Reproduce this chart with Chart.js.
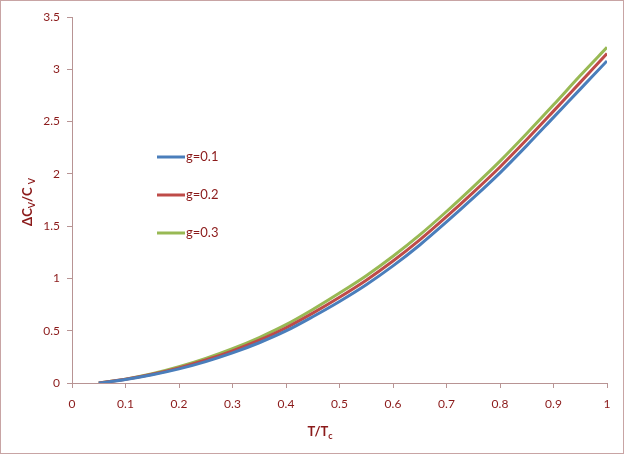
<!DOCTYPE html>
<html>
<head>
<meta charset="utf-8">
<script src="https://cdn.jsdelivr.net/npm/chart.js@4/dist/chart.umd.min.js"></script>
<style>
html,body{margin:0;padding:0;background:#fff;}
#wrap{width:624px;height:454px;position:relative;}
</style>
</head>
<body>
<div id="wrap"><canvas id="c" width="624" height="454"></canvas></div>
<script>
// Data
const tValues = [0.05,0.10,0.15,0.20,0.25,0.30,0.35,0.40,0.45,0.50,0.55,0.60,0.65,0.70,0.75,0.80,0.85,0.90,0.95,1.00];
const g01 = [0,0.033,0.078,0.135,0.205,0.288,0.385,0.498,0.634,0.780,0.940,1.120,1.320,1.540,1.770,2.010,2.270,2.540,2.810,3.080];
const g02 = [0,0.035,0.083,0.145,0.220,0.308,0.410,0.528,0.668,0.820,0.983,1.166,1.368,1.590,1.823,2.066,2.328,2.600,2.875,3.150];
const g03 = [0,0.037,0.088,0.155,0.235,0.328,0.435,0.558,0.703,0.860,1.026,1.212,1.416,1.640,1.876,2.122,2.386,2.660,2.940,3.210];
const seriesLabels = ['g=0.1','g=0.2','g=0.3'];
const xTickStep = 0.1, xMin = 0, xMax = 1;
const yTickStep = 0.5, yMin = 0, yMax = 3.5;

const textColor = '#8b1a1a';
const axisColor = '#b89494';
const fontFamily = 'Lato, "Open Sans", sans-serif';

function pts(ys){ return tValues.map((t,i)=>({x:t,y:ys[i]})); }

const overlay = {
  id:'overlay',
  afterDraw(chart){
    const ctx = chart.ctx;
    ctx.save();
    // outer border
    ctx.strokeStyle = '#c8a4a4';
    ctx.lineWidth = 1;
    ctx.strokeRect(0.5,0.5,chart.width-1,chart.height-1);
    // legend
    const lx = 157, ly = [157,195,233];
    chart.data.datasets.forEach((ds,i)=>{
      ctx.strokeStyle = ds.borderColor;
      ctx.lineWidth = 3;
      ctx.beginPath(); ctx.moveTo(lx,ly[i]); ctx.lineTo(lx+28,ly[i]); ctx.stroke();
      ctx.fillStyle = textColor;
      ctx.font = '13px ' + fontFamily;
      ctx.textBaseline = 'middle'; ctx.textAlign = 'left';
      ctx.fillText(ds.label, lx+29, ly[i]);
    });
    // x title  T/Tc
    ctx.fillStyle = textColor;
    ctx.textBaseline = 'alphabetic';
    const bold = 'bold 13px ' + fontFamily, sub = 'bold 9px ' + fontFamily;
    ctx.font = bold;
    const w1 = ctx.measureText('T/T').width;
    ctx.font = sub;
    const w2 = ctx.measureText('c').width;
    let x0 = 320 - (w1+w2)/2, yb = 436;
    ctx.font = bold; ctx.textAlign='left';
    ctx.fillText('T/T', x0, yb);
    ctx.font = sub; ctx.fillText('c', x0+w1, yb+3);
    // y title ΔCV/C V (rotated)
    ctx.translate(32, 202);
    ctx.rotate(-Math.PI/2);
    const parts = [['ΔC',bold,0],['V',sub,3],['/C ',bold,0],['V',sub,3]];
    let tw = 0;
    parts.forEach(p=>{ctx.font=p[1]; tw += ctx.measureText(p[0]).width;});
    let cx = -tw/2;
    parts.forEach(p=>{ctx.font=p[1]; ctx.fillText(p[0], cx, p[2]); cx += ctx.measureText(p[0]).width;});
    ctx.restore();
  }
};

const colors = ['#4a7ebb','#be4b48','#98b954'];
new Chart(document.getElementById('c'), {
  type:'scatter',
  data:{
    datasets:[g01,g02,g03].map((d,i)=>({
      label: seriesLabels[i],
      data: pts(d),
      showLine:true,
      borderColor: colors[i],
      backgroundColor: colors[i],
      borderWidth: 3,
      pointRadius: 0,
      cubicInterpolationMode: 'monotone'
    }))
  },
  options:{
    responsive:false,
    animation:false,
    layout:{padding:{left:0,top:17,right:17,bottom:0}},
    plugins:{legend:{display:false},tooltip:{enabled:false}},
    scales:{
      x:{
        type:'linear', min:xMin, max:xMax,
        ticks:{stepSize:xTickStep, color:textColor, font:{family:fontFamily,size:12}, padding:9,
          callback:v=>String(Math.round(v*10)/10)},
        grid:{display:true, drawOnChartArea:false, drawTicks:true, tickLength:5, color:axisColor},
        border:{color:axisColor, width:1},
        afterFit(s){ s.height = 71; }
      },
      y:{
        type:'linear', min:yMin, max:yMax,
        ticks:{stepSize:yTickStep, color:textColor, font:{family:fontFamily,size:12}, padding:7,
          callback:v=>String(Math.round(v*10)/10)},
        grid:{display:true, drawOnChartArea:false, drawTicks:true, tickLength:5, color:axisColor},
        border:{color:axisColor, width:1},
        afterFit(s){ s.width = 72; }
      }
    }
  },
  plugins:[overlay]
});
</script>
</body>
</html>
